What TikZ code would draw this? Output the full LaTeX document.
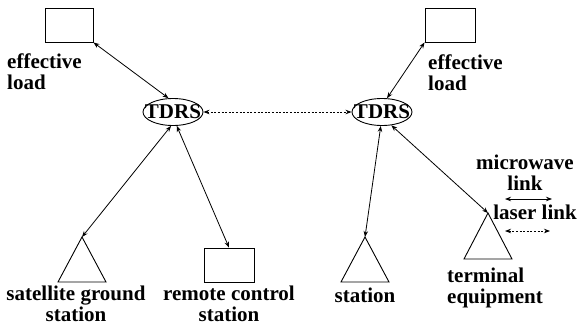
\documentclass[tikz,border=0pt]{standalone}
\usepackage{fontspec}
\setmainfont{Liberation Serif}
\newfontfamily\serf{Liberation Serif}
\usetikzlibrary{arrows.meta,shapes.geometric}
\begin{document}
\begin{tikzpicture}[x=1pt,y=-1pt,
  every node/.style={font=\serf\bfseries\fontsize{21}{21}\selectfont, inner sep=0pt},
  box/.style={draw, line width=0.9pt, minimum width=48pt, minimum height=34pt},
  sat/.style={draw, ellipse, line width=0.9pt, minimum width=60pt, minimum height=27pt, inner xsep=-8pt, inner ysep=0pt},
  lbl/.style={align=left, anchor=north west},
  lblc/.style={align=center, anchor=north},
  link/.style={line width=0.8pt, {Stealth[length=6pt,width=4.5pt]}-{Stealth[length=6pt,width=4.5pt]}},
  laser/.style={link, dash pattern=on 2pt off 1.6pt},
  tri/.style={draw, line width=0.9pt}
]
\useasboundingbox (0,0) rectangle (579,335);
% boxes
\node[box] (lbox) at (69,25) {};
\node[box, minimum width=50pt] (rbox) at (450,25) {};
\node[box, minimum width=50pt] (rcbox) at (229,265) {};
% TDRS
\node[sat] (ltdrs) at (173,112) {TDRS};
\node[sat] (rtdrs) at (382,112) {TDRS};
% triangles
\coordinate (sgs) at (82,237);
\coordinate (sta) at (365,237);
\coordinate (term) at (488,213);
\draw[tri] (sgs) -- ++(-24,45) -- ++(48,0) -- cycle;
\draw[tri] (sta) -- ++(-24,45) -- ++(48,0) -- cycle;
\draw[tri] (term) -- ++(-24,46) -- ++(48,0) -- cycle;
% labels
\node[lbl] (lel) at (7,54) {effective\\load};
\node[lbl] (rel) at (428,55) {effective\\load};
\node[lblc] (sgsl) at (76,286) {satellite ground\\station};
\node[lblc] (rcl) at (229,286) {remote control\\station};
\node[lblc] (stal) at (365,288) {station};
\node[lbl] (terml) at (447,268) {terminal\\equipment};
\node[lblc] (mwl) at (525,155) {microwave\\link};
\node[lblc] (lll) at (535,205) {laser link};
% legend arrows
\coordinate (mw1) at (505,199);
\coordinate (mw2) at (552,199);
\coordinate (la1) at (505,231);
\coordinate (la2) at (550,231);
\draw[link] (mw1) -- (mw2);
\draw[laser] (la1) -- (la2);
% connectors
\draw[link] (lbox.south east) -- (ltdrs.108);
\draw[link] (rbox.south west) -- (rtdrs.70);
\draw[laser] (ltdrs.east) -- (rtdrs.west);
\draw[link] (ltdrs.262) -- (sgs);
\draw[link] (ltdrs.285) -- (rcbox.north);
\draw[link] (rtdrs.265) -- (sta);
\draw[link] (rtdrs.305) -- (term);
\end{tikzpicture}
\end{document}
